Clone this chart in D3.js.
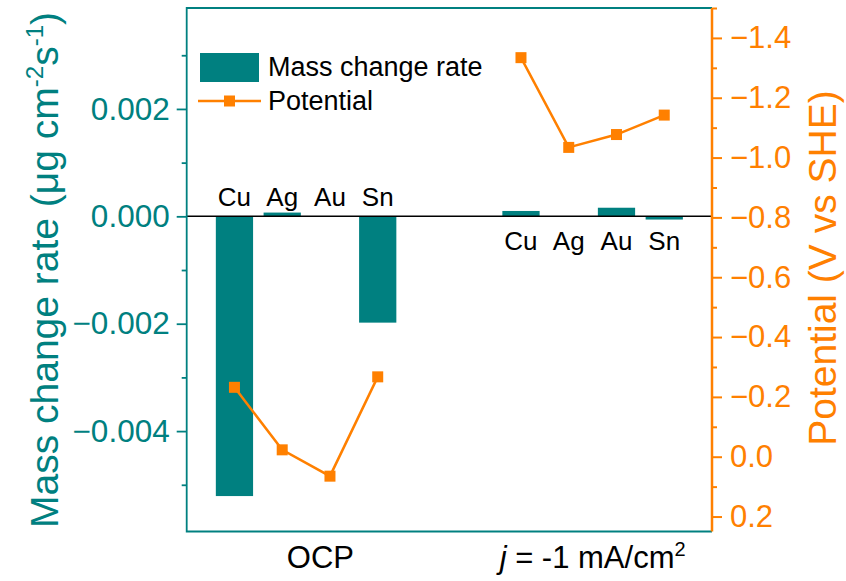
<!DOCTYPE html>
<html>
<head>
<meta charset="utf-8">
<script src="https://d3js.org/d3.v7.min.js"></script>
<style>
  body { margin: 0; background: #fff; }
  svg { font-family: "Liberation Sans", Arial, sans-serif; }
</style>
</head>
<body>
<div id="chart"></div>
<script>
// data
var metals = ["Cu", "Ag", "Au", "Sn"];
var xOCP = [1, 2, 3, 4];
var xCur = [7, 8, 9, 10];
var massOCP = [-0.00521, 0.00007, 0, -0.00198];
var massCur = [0.0001, 0, 0.00016, -0.00006];
var potOCP = [-0.232, -0.023, 0.065, -0.267];
var potCur = [-1.334, -1.034, -1.077, -1.142];
var massTicks = [-0.004, -0.002, 0, 0.002];
var massMinor = [-0.005, -0.003, -0.001, 0.001, 0.003];
var potTicks = [-1.4, -1.2, -1.0, -0.8, -0.6, -0.4, -0.2, 0.0, 0.2];
var potMinor = [-1.5, -1.3, -1.1, -0.9, -0.7, -0.5, -0.3, -0.1, 0.1];
var groupPos = [2.8, 8.5];

var teal = "#008080", orange = "#ff8000";
var W = 846, H = 581;
var pLeft = 186.7, pRight = 712, pTop = 8, pBottom = 531.5;

var svg = d3.select("#chart").append("svg").attr("width", W).attr("height", H);

var x = d3.scaleLinear().domain([0, 11]).range([pLeft, pRight]);
var yM = d3.scaleLinear().domain([-0.00587, 0.00388]).range([pBottom, pTop]);
var yP = d3.scaleLinear().domain([-1.5, 0.25]).range([pTop, pBottom]);

var minus = function(s) { return s.replace("-", "\u2212"); };

// bars
var bars = [];
metals.forEach(function(m, i) {
  bars.push({x: xOCP[i], v: massOCP[i]});
  bars.push({x: xCur[i], v: massCur[i]});
});
var bw = x(0.78) - x(0);
svg.append("g").selectAll("rect").data(bars.filter(function(d) { return d.v !== 0; })).enter()
  .append("rect")
  .attr("x", function(d) { return x(d.x) - bw / 2; })
  .attr("y", function(d) { return Math.min(yM(d.v), yM(0)); })
  .attr("width", bw)
  .attr("height", function(d) { return Math.abs(yM(d.v) - yM(0)); })
  .attr("fill", teal);

// zero line
svg.append("line")
  .attr("x1", pLeft).attr("x2", pRight)
  .attr("y1", yM(0)).attr("y2", yM(0))
  .attr("stroke", "#000").attr("stroke-width", 1.5);

// potential lines
[[xOCP, potOCP], [xCur, potCur]].forEach(function(s) {
  var pts = s[0].map(function(xx, i) { return [xx, s[1][i]]; });
  svg.append("path").datum(pts)
    .attr("fill", "none").attr("stroke", orange).attr("stroke-width", 2.5)
    .attr("d", d3.line().x(function(d) { return x(d[0]); }).y(function(d) { return yP(d[1]); }));
  svg.append("g").selectAll("rect").data(pts).enter().append("rect")
    .attr("x", function(d) { return x(d[0]) - 5.5; })
    .attr("y", function(d) { return yP(d[1]) - 5.5; })
    .attr("width", 11).attr("height", 11)
    .attr("fill", orange);
});

// frame
svg.append("path")
  .attr("d", "M" + pRight + "," + pTop + "H" + pLeft + "V" + pBottom + "H" + pRight)
  .attr("fill", "none").attr("stroke", teal).attr("stroke-width", 1.8);

// left axis
var gl = svg.append("g").attr("transform", "translate(" + pLeft + ",0)");
gl.call(d3.axisLeft(yM).tickValues(massTicks).tickSize(10).tickPadding(7)
  .tickFormat(function(d) { return minus(d3.format(".3f")(d)); }));
gl.append("g").call(d3.axisLeft(yM).tickValues(massMinor).tickSize(5).tickFormat(""));
gl.selectAll(".domain").remove();
gl.selectAll("line").attr("stroke", teal).attr("stroke-width", 1.8);
gl.selectAll("text").attr("fill", teal).attr("font-size", 31.5).attr("font-family", "Liberation Sans, Arial, sans-serif");

// right axis
var gr = svg.append("g").attr("transform", "translate(" + pRight + ",0)");
gr.call(d3.axisRight(yP).tickValues(potTicks).tickSize(10).tickPadding(8)
  .tickFormat(function(d) { return minus(d3.format(".1f")(d)); }));
gr.append("g").call(d3.axisRight(yP).tickValues(potMinor).tickSize(5).tickFormat(""));
gr.selectAll(".domain").remove();
gr.selectAll("line").attr("stroke", orange).attr("stroke-width", 2);
gr.selectAll("text").attr("fill", orange).attr("font-size", 31).attr("font-family", "Liberation Sans, Arial, sans-serif");
gr.append("line").attr("x1", 0).attr("x2", 0).attr("y1", pTop).attr("y2", pBottom)
  .attr("stroke", orange).attr("stroke-width", 2.5);

// metal labels
svg.append("g").selectAll("text").data(xOCP).enter().append("text")
  .attr("x", function(d) { return x(d); }).attr("y", 206)
  .attr("text-anchor", "middle").attr("font-size", 26)
  .text(function(d, i) { return metals[i]; });
svg.append("g").selectAll("text").data(xCur).enter().append("text")
  .attr("x", function(d) { return x(d); }).attr("y", 250)
  .attr("text-anchor", "middle").attr("font-size", 26)
  .text(function(d, i) { return metals[i]; });

// group labels
svg.append("text").attr("x", x(groupPos[0])).attr("y", 568)
  .attr("text-anchor", "middle").attr("font-size", 31).text("OCP");
var jt = svg.append("text").attr("x", x(groupPos[1])).attr("y", 568)
  .attr("text-anchor", "middle").attr("font-size", 31);
jt.append("tspan").attr("font-style", "italic").text("j");
jt.append("tspan").text(" = -1 mA/cm");
jt.append("tspan").attr("font-size", 20).attr("dy", -12).text("2");

// axis titles
var lt = svg.append("text").attr("transform", "translate(58,270) rotate(-90)")
  .attr("text-anchor", "middle").attr("font-size", 39).attr("fill", teal);
lt.append("tspan").text("Mass change rate (\u03bcg cm");
lt.append("tspan").attr("font-size", 24).attr("dy", -15).text("-2");
lt.append("tspan").attr("dy", 15).text("s");
lt.append("tspan").attr("font-size", 24).attr("dy", -15).text("-1");
lt.append("tspan").attr("dy", 15).text(")");

svg.append("text").attr("transform", "translate(836,268) rotate(-90)")
  .attr("text-anchor", "middle").attr("font-size", 39).attr("fill", orange)
  .text("Potential (V vs SHE)");

// legend
svg.append("rect").attr("x", 200).attr("y", 53).attr("width", 59).attr("height", 29).attr("fill", teal);
svg.append("text").attr("x", 268).attr("y", 76).attr("font-size", 27).text("Mass change rate");
svg.append("line").attr("x1", 198).attr("x2", 261).attr("y1", 101).attr("y2", 101)
  .attr("stroke", orange).attr("stroke-width", 2.5);
svg.append("rect").attr("x", 224).attr("y", 95.5).attr("width", 11).attr("height", 11).attr("fill", orange);
svg.append("text").attr("x", 268).attr("y", 110).attr("font-size", 27).text("Potential");
</script>
</body>
</html>
